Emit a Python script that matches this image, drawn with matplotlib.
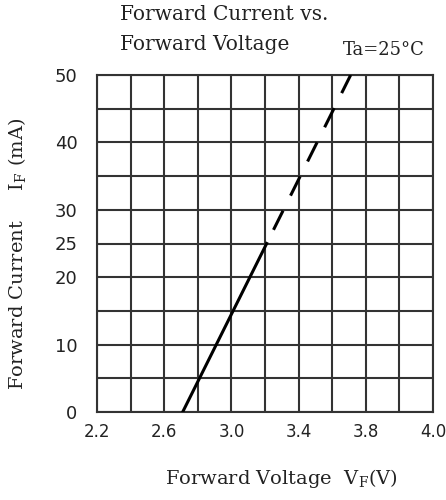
import matplotlib
matplotlib.use("Agg")
import matplotlib.pyplot as plt
import numpy as np

# ── Data ──────────────────────────────────────────────────────────────────────
vf_measured = [2.71, 2.81, 3.01, 3.21]          # V, solid part
if_measured = [0, 5, 15, 25]                    # mA
vf_extrap   = [3.21, 3.41, 3.61, 3.71]          # V, dashed part
if_extrap   = [25, 35, 45, 50]                  # mA

x_ticks       = [2.2, 2.6, 3.0, 3.4, 3.8, 4.2]
x_tick_labels = ["2.2", "2.6", "3.0", "3.4", "3.8", "4.0"]
y_ticks       = [0, 10, 20, 25, 30, 40, 50]
y_tick_labels = ["0", "10", "20", "25", "30", "40", "50"]

SERIF = "DejaVu Serif"
GRID  = "#333333"
INK   = "#222222"

fig = plt.figure(figsize=(4.46, 5.0), dpi=100)
ax = fig.add_axes([97 / 446, 1 - 412 / 500, 336 / 446, 337 / 500])

ax.plot(vf_measured, if_measured, color="black", lw=2.2, zorder=4)
ax.plot(vf_extrap, if_extrap, color="black", lw=2.2, zorder=4,
        linestyle=(7.5, (7, 5.5)))

ax.set_xlim(2.2, 4.2)
ax.set_ylim(0, 50)
ax.set_xticks(np.arange(2.2, 4.21, 0.2), minor=True)
ax.set_yticks(np.arange(0, 51, 5), minor=True)
ax.set_xticks(x_ticks, x_tick_labels, fontsize=12)
ax.set_yticks(y_ticks, y_tick_labels, fontsize=13)
ax.grid(which="both", color=GRID, lw=1.5)
ax.tick_params(which="both", length=0, colors=INK)
ax.tick_params(axis="x", pad=8)
ax.tick_params(axis="y", pad=14)
for sp in ax.spines.values():
    sp.set_color(GRID)
    sp.set_linewidth(1.5)

# Titles and axis labels
fig.text(120 / 446, 1 - 15 / 500, "Forward Current vs.", family=SERIF,
         fontsize=14.5, ha="left", va="center", color=INK)
fig.text(120 / 446, 1 - 45 / 500, "Forward Voltage", family=SERIF,
         fontsize=14.5, ha="left", va="center", color=INK)
fig.text(384 / 446, 1 - 50 / 500, "Ta=25\u00b0C", family=SERIF,
         fontsize=13, ha="center", va="center", color=INK)
fig.text(281 / 446, 1 - 478 / 500, "Forward Voltage  V$_\\mathregular{F}$(V)",
         family=SERIF, fontsize=14, ha="center", va="center", color=INK)
fig.text(18 / 446, 1 - 254 / 500, "Forward Current     I$_\\mathregular{F}$ (mA)",
         family=SERIF, fontsize=14, ha="center", va="center",
         rotation=90, color=INK)

fig.savefig("out.png", dpi=100)
